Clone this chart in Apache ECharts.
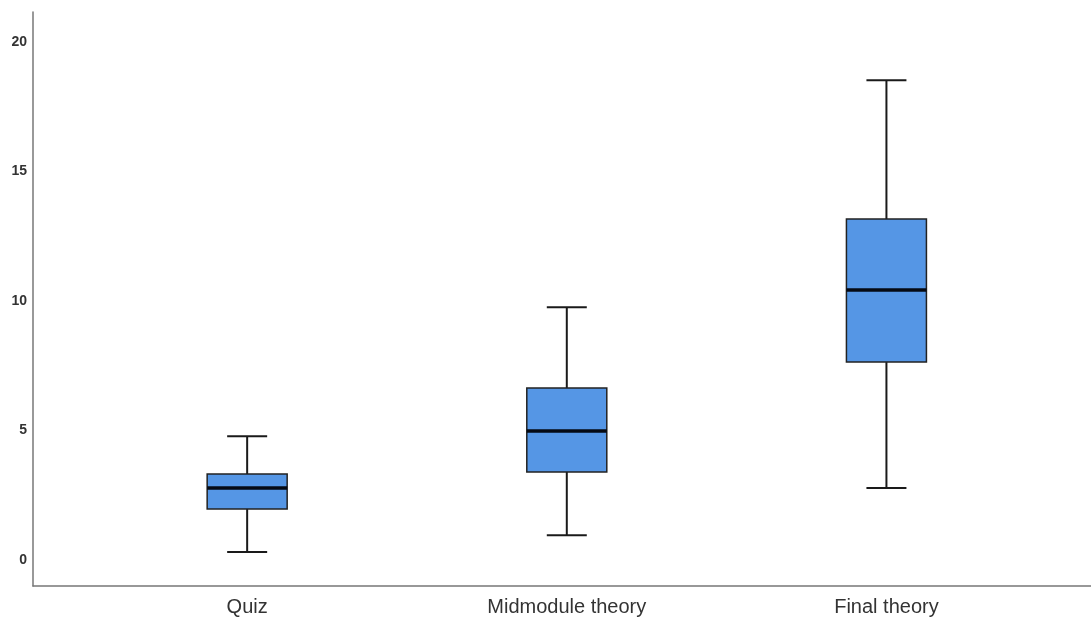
<!DOCTYPE html>
<html>
<head>
    <meta charset="utf-8">
    <title>Boxplot</title>
    <script src="https://cdn.jsdelivr.net/npm/echarts@6/dist/echarts.min.js"></script>
</head>
<body style="margin:0">
    <div id="main" style="width:1091px;height:619px;"></div>
    <script type="text/javascript">
        // categories and five-number summaries
        var categories = ['Quiz', 'Midmodule theory', 'Final theory'];
        var whiskerLow = [0.31, 0.96, 2.78];
        var q1 = [1.97, 3.40, 7.64];
        var median = [2.78, 4.98, 10.42];
        var q3 = [3.32, 6.64, 13.16];
        var whiskerHigh = [4.78, 9.76, 18.52];
        var yTicks = [0, 5, 10, 15, 20];

        var data = categories.map(function (c, i) {
            return [i, whiskerLow[i], q1[i], median[i], q3[i], whiskerHigh[i]];
        });

        var myChart = echarts.init(document.getElementById('main'), null, { renderer: 'canvas' });

        var line = { stroke: '#1a1a1a', lineWidth: 2 };

        var option = {
            backgroundColor: '#fff',
            animation: false,
            grid: { left: 33, right: 0, top: 12, bottom: 33 },
            xAxis: {
                type: 'value',
                min: -0.67,
                max: 2.64,
                splitLine: { show: false },
                axisTick: { show: false },
                axisLine: { show: true, onZero: false, lineStyle: { color: '#777', width: 1.5 } },
                axisLabel: {
                    customValues: [0, 1, 2],
                    formatter: function (v) { return categories[Math.round(v)]; },
                    color: '#333',
                    fontSize: 20,
                    fontFamily: 'Liberation Sans, Arial, sans-serif',
                    margin: 11
                }
            },
            yAxis: {
                type: 'value',
                min: -1,
                max: 21.15,
                splitLine: { show: false },
                axisTick: { show: false },
                axisLine: { show: true, onZero: false, lineStyle: { color: '#777', width: 1.5 } },
                axisLabel: {
                    customValues: yTicks,
                    color: '#333',
                    fontSize: 14,
                    fontWeight: 'bold',
                    fontFamily: 'Liberation Sans, Arial, sans-serif',
                    margin: 6
                }
            },
            series: [{
                type: 'custom',
                data: data,
                encode: { x: 0, y: [1, 2, 3, 4, 5] },
                renderItem: function (params, api) {
                    var x = api.value(0);
                    var pLow = api.coord([x, api.value(1)]);
                    var pQ1 = api.coord([x, api.value(2)]);
                    var pMed = api.coord([x, api.value(3)]);
                    var pQ3 = api.coord([x, api.value(4)]);
                    var pHigh = api.coord([x, api.value(5)]);
                    var cx = pLow[0];
                    var half = 40, cap = 20;
                    return {
                        type: 'group',
                        children: [
                            { type: 'line', shape: { x1: cx, y1: pHigh[1], x2: cx, y2: pQ3[1] }, style: line },
                            { type: 'line', shape: { x1: cx, y1: pQ1[1], x2: cx, y2: pLow[1] }, style: line },
                            { type: 'line', shape: { x1: cx - cap, y1: pHigh[1], x2: cx + cap, y2: pHigh[1] }, style: line },
                            { type: 'line', shape: { x1: cx - cap, y1: pLow[1], x2: cx + cap, y2: pLow[1] }, style: line },
                            {
                                type: 'rect',
                                shape: { x: cx - half, y: pQ3[1], width: half * 2, height: pQ1[1] - pQ3[1] },
                                style: { fill: '#5596e5', stroke: '#222', lineWidth: 1.5 }
                            },
                            {
                                type: 'line',
                                shape: { x1: cx - half, y1: pMed[1], x2: cx + half, y2: pMed[1] },
                                style: { stroke: '#050a14', lineWidth: 3.5 }
                            }
                        ]
                    };
                }
            }]
        };

        myChart.setOption(option);
    </script>
</body>
</html>
